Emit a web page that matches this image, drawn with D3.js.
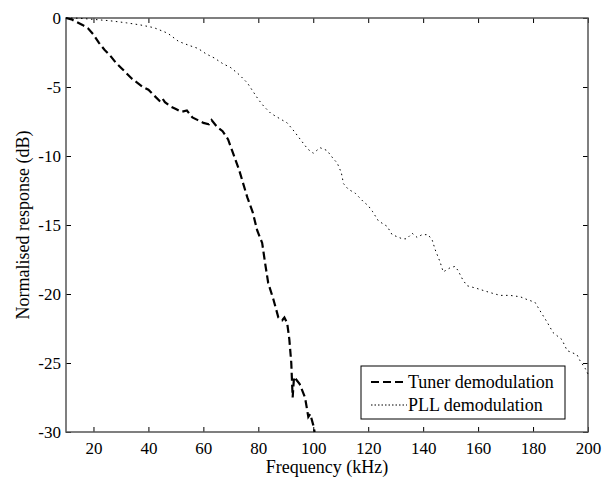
<!DOCTYPE html>
<html>
<head>
<meta charset="utf-8">
<script src="https://cdn.jsdelivr.net/npm/d3@7"></script>
<style>
body { margin: 0; background: #fff; }
text { font-family: "Liberation Serif", "Times New Roman", serif; fill: #000; }
</style>
</head>
<body>
<div id="chart"></div>
<script>
// values
var tunerFreq = [10, 12, 14, 16, 18, 20, 22, 24, 26, 28, 30, 32, 34, 36, 38, 40, 42, 44, 45, 46, 48, 50, 52, 54, 56, 58, 60, 62, 63, 65, 67, 69, 71, 73, 74.5, 76, 78, 79.6, 81.4, 82.5, 83.6, 85.5, 87.3, 88.7, 89.5, 90.5, 91.3, 92, 92.5, 93, 95, 97, 98.2, 98.9, 100, 100.5];
var tunerDb = [0, -0.1, -0.3, -0.5, -0.75, -1.2, -1.8, -2.3, -2.7, -3.2, -3.6, -4.0, -4.4, -4.7, -5.0, -5.2, -5.6, -6.0, -5.8, -6.1, -6.4, -6.6, -6.8, -6.7, -7.2, -7.4, -7.6, -7.7, -7.4, -7.9, -8.2, -8.8, -9.9, -11.0, -12.0, -13.0, -14.1, -15.4, -16.3, -17.8, -19.2, -20.4, -21.7, -21.9, -21.7, -22.1, -23.3, -25, -27.5, -26, -26.5, -27.5, -28.9, -28.7, -29.5, -30];

var pllFreq = [10, 15, 20, 26, 32, 37, 42, 47, 51, 55, 58, 61, 64, 67, 70, 73, 76, 78, 80, 82, 84.5, 87, 90.5, 93, 95.3, 98, 100, 102.5, 105, 107.3, 108.7, 110.2, 111, 112.7, 115.3, 118.2, 120, 121.5, 123.7, 126.9, 128.7, 132.4, 134, 136, 137.8, 139.6, 141.8, 143.3, 144.4, 146.2, 147.3, 149.8, 151.6, 152.7, 154.5, 156, 159.6, 164.4, 168, 171.6, 175.3, 177.8, 180.7, 182.5, 185, 187.3, 190.5, 192.4, 196, 197, 199, 200];
var pllDb = [0, -0.02, -0.1, -0.2, -0.35, -0.5, -0.7, -1.1, -1.7, -2.0, -2.2, -2.6, -2.9, -3.3, -3.6, -4.1, -4.7, -5.3, -5.9, -6.4, -6.9, -7.2, -7.6, -8.2, -8.8, -9.5, -9.8, -9.4, -9.6, -10.2, -10.5, -11.2, -12, -12.4, -12.7, -13.3, -13.6, -14, -14.7, -15.1, -15.7, -16.0, -16.0, -15.6, -15.9, -15.7, -15.7, -16.1, -16.8, -17.7, -18.4, -18.1, -18.0, -18.3, -19.0, -19.4, -19.6, -19.9, -20.1, -20.1, -20.2, -20.4, -20.6, -21.2, -22.0, -22.8, -23.3, -24.1, -24.4, -24.8, -25.4, -25.8];

var xTicks = [20, 40, 60, 80, 100, 120, 140, 160, 180, 200];
var yTicks = [0, -5, -10, -15, -20, -25, -30];
var seriesNames = ["Tuner demodulation", "PLL demodulation"];

var margin = {top: 18, right: 15, bottom: 47, left: 66};
var W = 603, H = 479;
var width = W - margin.left - margin.right;
var height = H - margin.top - margin.bottom;

var svg = d3.select("#chart").append("svg")
    .attr("width", W)
    .attr("height", H);
var g = svg.append("g")
    .attr("transform", "translate(" + margin.left + "," + margin.top + ")");

var x = d3.scaleLinear().domain([10, 200]).range([0, width]);
var y = d3.scaleLinear().domain([-30, 0]).range([height, 0]);

// plain hyphen for negatives, like the original
var fmt = function(d) { return String(d); };

// ticks pointing inward on all four sides
var tickLen = 5;
var axisColor = "#555";

function styleAxis(sel) {
    sel.attr("font-family", "Liberation Serif").attr("font-size", 17);
    sel.select(".domain").remove();
    sel.selectAll(".tick line").attr("stroke", "#000").attr("stroke-width", 1);
}

g.append("g")
    .attr("transform", "translate(0," + height + ")")
    .call(d3.axisBottom(x).tickValues(xTicks).tickFormat(fmt).tickSizeInner(-tickLen).tickPadding(10))
    .call(styleAxis);
g.append("g")
    .call(d3.axisTop(x).tickValues(xTicks).tickSizeInner(-tickLen).tickFormat(""))
    .call(styleAxis);
g.append("g")
    .call(d3.axisLeft(y).tickValues(yTicks).tickFormat(fmt).tickSizeInner(-tickLen).tickPadding(5))
    .call(styleAxis);
g.append("g")
    .attr("transform", "translate(" + width + ",0)")
    .call(d3.axisRight(y).tickValues(yTicks).tickSizeInner(-tickLen).tickFormat(""))
    .call(styleAxis);

// frame
g.append("rect")
    .attr("width", width)
    .attr("height", height)
    .attr("fill", "none")
    .attr("stroke", axisColor)
    .attr("stroke-width", 1.5);

var line = d3.line()
    .x(function(d) { return x(d[0]); })
    .y(function(d) { return y(d[1]); });

var tunerData = d3.zip(tunerFreq, tunerDb);
var pllData = d3.zip(pllFreq, pllDb);

g.append("path")
    .datum(pllData)
    .attr("d", line)
    .attr("fill", "none")
    .attr("stroke", "#000")
    .attr("stroke-width", 1)
    .attr("stroke-dasharray", "1.5,3.5");

g.append("path")
    .datum(tunerData)
    .attr("d", line)
    .attr("fill", "none")
    .attr("stroke", "#000")
    .attr("stroke-width", 2.2)
    .attr("stroke-dasharray", "8,4");

// axis labels
svg.append("text")
    .attr("x", margin.left + width / 2)
    .attr("y", 473)
    .attr("text-anchor", "middle")
    .style("font-size", "18px")
    .text("Frequency (kHz)");

svg.append("text")
    .attr("transform", "translate(29," + (margin.top + height / 2) + ") rotate(-90)")
    .attr("text-anchor", "middle")
    .style("font-size", "18px")
    .text("Normalised response (dB)");

// legend
var legX = 361 - margin.left, legY = 366 - margin.top;
var leg = g.append("g").attr("transform", "translate(" + legX + "," + legY + ")");
leg.append("rect")
    .attr("width", 204)
    .attr("height", 53)
    .attr("fill", "#fff")
    .attr("stroke", "#000")
    .attr("stroke-width", 1);

var legStyles = [
    {w: 2.2, dash: "8,4"},
    {w: 1, dash: "1.5,2"}
];
seriesNames.forEach(function(name, i) {
    var ly = 16 + i * 23;
    leg.append("line")
        .attr("x1", 10).attr("x2", 46)
        .attr("y1", ly).attr("y2", ly)
        .attr("stroke", "#000")
        .attr("stroke-width", legStyles[i].w)
        .attr("stroke-dasharray", legStyles[i].dash);
    leg.append("text")
        .attr("x", 47)
        .attr("y", ly + 6)
        .style("font-size", "18px")
        .text(name);
});
</script>
</body>
</html>
